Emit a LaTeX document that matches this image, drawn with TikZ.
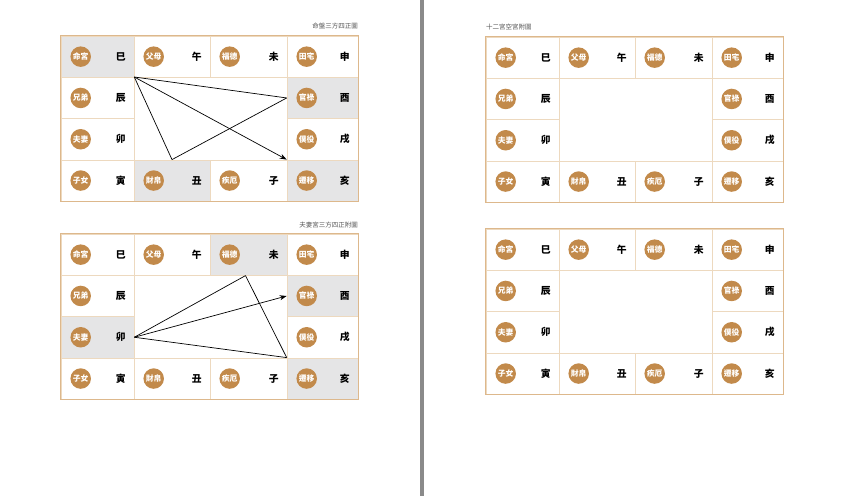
\documentclass[tikz,border=0pt]{standalone}
\usepackage{fontspec}
\newfontfamily\cjk{Noto Sans CJK TC}
\usetikzlibrary{arrows.meta}
\definecolor{badgecol}{HTML}{C28A4B}
\definecolor{outerline}{HTML}{DDB88C}
\definecolor{innerline}{HTML}{EDD9BF}
\definecolor{shadecol}{HTML}{E5E5E6}
\definecolor{titlecol}{HTML}{555555}
\definecolor{divider}{HTML}{8A8A8A}
\tikzset{
  cell/.style={draw=innerline, line width=0.6pt, fill=white, inner sep=0pt, minimum height=41.3pt},
  shaded/.style={fill=shadecol},
  badge/.style={circle, fill=badgecol, minimum size=20.5pt, inner sep=0pt, text=white, font=\cjk\bfseries\fontsize{7.8}{8}\selectfont},
  branch/.style={inner sep=0pt, font=\cjk\bfseries\fontsize{9.8}{10}\selectfont},
  charttitle/.style={inner sep=0pt, text=titlecol, font=\cjk\fontsize{6.5}{7}\selectfont},
  frame/.style={draw=outerline, line width=1.5pt},
  link/.style={line width=0.7pt, black},
  linkarrow/.style={line width=0.7pt, black, -{Stealth[length=7pt,width=5pt]}},
  pal si/.style={}, pal wu/.style={}, pal wei/.style={}, pal shen/.style={},
  pal chen/.style={}, pal you/.style={}, pal mao/.style={}, pal xu/.style={},
  pal yin/.style={}, pal chou/.style={}, pal zi/.style={}, pal hai/.style={}
}
\newcommand\palacechart[3]{%
  \begin{scope}[shift={#2},#3]
    \foreach \k/\c/\r/\p/\b in {si/0/0/命宮/巳, wu/1/0/父母/午, wei/2/0/福德/未, shen/3/0/田宅/申,
        chen/0/1/兄弟/辰, you/3/1/官祿/酉, mao/0/2/夫妻/卯, xu/3/2/僕役/戌,
        yin/0/3/子女/寅, chou/1/3/財帛/丑, zi/2/3/疾厄/子, hai/3/3/遷移/亥} {
      \pgfmathsetmacro\cxl{{0,73,149,226}[\c]}
      \pgfmathsetmacro\cwd{{73,76,77,71}[\c]}
      \pgfmathsetmacro\cxc{\cxl+\cwd/2}
      \pgfmathsetmacro\cyc{\r*41.3+20.65}
      \node[cell, pal \k, minimum width=\cwd pt] (#1-\k) at (\cxc,\cyc) {};
      \node[badge] (#1-\k-p) at ([xshift=20pt]#1-\k.west) {\p};
      \node[branch] (#1-\k-b) at ([xshift=-13.5pt]#1-\k.east) {\b};
    }
    \draw[frame] (#1-si.north west) rectangle (#1-hai.south east);
  \end{scope}
}
\begin{document}
\begin{tikzpicture}[x=1pt,y=-1pt]
  \useasboundingbox (0,0) rectangle (844,496);
  \fill[white] (0,0) rectangle (844,496);
  \fill[divider] (420,0) rectangle (424,496);

  % chart 1
  \palacechart{ca}{(61,36)}{pal si/.style={shaded}, pal you/.style={shaded}, pal chou/.style={shaded}, pal hai/.style={shaded}}
  \node[charttitle, anchor=east] (ta) at (358,26) {命盤三方四正圖};
  \draw[link] (ca-chen.north east) -- (ca-you.west);
  \draw[link] (ca-chen.north east) -- (ca-chou.north);
  \draw[link] (ca-chou.north) -- (ca-you.west);
  \draw[linkarrow] (ca-chen.north east) -- (ca-hai.north west);

  % chart 2
  \palacechart{cb}{(61,234)}{pal wei/.style={shaded}, pal you/.style={shaded}, pal mao/.style={shaded}, pal hai/.style={shaded}}
  \node[charttitle, anchor=east] (tb) at (358,225) {夫妻宮三方四正附圖};
  \coordinate (cb-top) at ([xshift=-3pt]cb-wei.south);
  \draw[link] (cb-mao.east) -- (cb-top);
  \draw[link] (cb-mao.east) -- (cb-hai.north west);
  \draw[link] (cb-top) -- (cb-hai.north west);
  \draw[linkarrow] (cb-mao.east) -- (cb-you.west);

  % chart 3
  \palacechart{cc}{(486,37)}{}
  \node[charttitle, anchor=west] (tc) at (486,27) {十二宮空宮附圖};

  % chart 4
  \palacechart{cd}{(486,229)}{}
\end{tikzpicture}
\end{document}
